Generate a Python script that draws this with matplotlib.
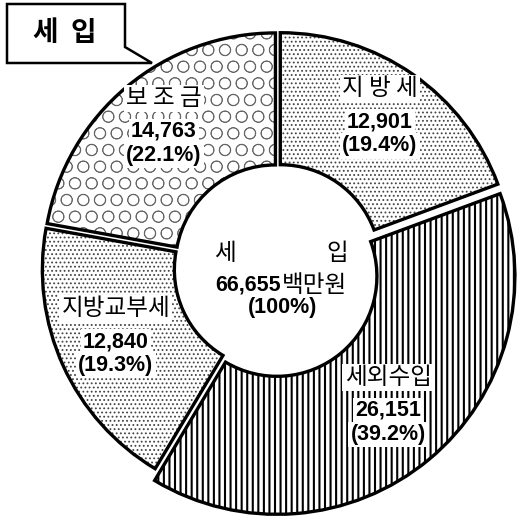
import numpy as np
import matplotlib.pyplot as plt
import matplotlib.patches as mpatches

plt.rcParams['font.family'] = ['Noto Sans CJK KR', 'DejaVu Sans']
NUM_FONT = ['Liberation Sans', 'DejaVu Sans']

# data (clockwise from top)
names = ['지 방 세', '세외수입', '지방교부세', '보 조 금']
values = [12901, 26151, 12840, 14763]
pcts = [19.4, 39.2, 19.3, 22.1]
total = 66655
total_pct = 100
title = '세  입'
center_name = ['세', '입']
center_unit = '백만원'

hatches = ['....', '|||', '....', 'O']
hatch_cols = ['#444444', 'black', '#444444', '#666666']
hatch_lws = [0.8, 1.5, 0.8, 0.5]

W, H = 517, 521
cx, cy = 278, H - 268
R, r_in = 232, 100


def P(px, py):
    return px, H - py


fig = plt.figure(figsize=(W / 100, H / 100), dpi=100)
ax = fig.add_axes([0, 0, 1, 1])

wedges, _ = ax.pie(values, startangle=90, counterclock=False, center=(cx, cy),
                   radius=R, explode=[4, 3, 4, 4], colors=['white'] * 4,
                   wedgeprops=dict(width=R - r_in, linewidth=0))

# bulging 세외수입 piece
big = wedges[1]
big.set_radius(R + 6)
big.set_width(R + 6 - r_in)
bx, by = big.center
big.set_center((bx - 3, by - 6))

for w, h, hc, hl in zip(wedges, hatches, hatch_cols, hatch_lws):
    w.set_hatch(h)
    w.set_edgecolor(hc)
    if hasattr(w, 'set_hatch_linewidth'):
        w.set_hatch_linewidth(hl)
    else:
        plt.rcParams['hatch.linewidth'] = hl
    # thick outline
    ax.add_patch(mpatches.Wedge(w.center, w.r, w.theta1, w.theta2, width=w.width,
                                fill=False, edgecolor='black', linewidth=2.4,
                                joinstyle='miter'))

bg = dict(facecolor='white', edgecolor='none', pad=1.5)

# labels
lab_r = 174
for w, nm, v, p in zip(wedges, names, values, pcts):
    th = np.deg2rad((w.theta1 + w.theta2) / 2)
    x = w.center[0] + lab_r * np.cos(th)
    y = w.center[1] + lab_r * np.sin(th)
    ax.text(x, y + 33, nm, ha='center', va='center', fontsize=17,
            fontweight='light', bbox=bg)
    ax.text(x, y, f'{v:,}', ha='center', va='center', fontsize=15.5,
            fontweight='bold', family=NUM_FONT, bbox=bg)
    ax.text(x, y - 24, f'({p}%)', ha='center', va='center', fontsize=15.5,
            fontweight='bold', family=NUM_FONT, bbox=bg)

# centre text
ax.text(cx - 53, cy + 15, center_name[0], ha='center', va='center', fontsize=17,
        fontweight='light')
ax.text(cx + 59, cy + 15, center_name[1], ha='center', va='center', fontsize=17,
        fontweight='light')
ax.text(cx + 3, cy - 17, f'{total:,}', ha='right', va='center', fontsize=15.5,
        fontweight='bold', family=NUM_FONT)
ax.text(cx + 4, cy - 17, center_unit, ha='left', va='center', fontsize=17,
        fontweight='light')
ax.text(cx + 5, cy - 40, f'({total_pct}%)', ha='center', va='center', fontsize=15.5,
        fontweight='bold', family=NUM_FONT)

# title callout box
box = mpatches.Polygon([P(7, 4), P(125, 4), P(125, 47), P(152, 63), P(7, 63)],
                       closed=True, facecolor='white', edgecolor='black',
                       linewidth=1.8, joinstyle='miter')
ax.add_patch(box)
ax.text(*P(65, 33), title, ha='center', va='center', fontsize=20, fontweight='bold')

ax.set_xlim(0, W)
ax.set_ylim(0, H)
ax.set_aspect('equal')
ax.axis('off')

fig.savefig('out.png', dpi=100)
